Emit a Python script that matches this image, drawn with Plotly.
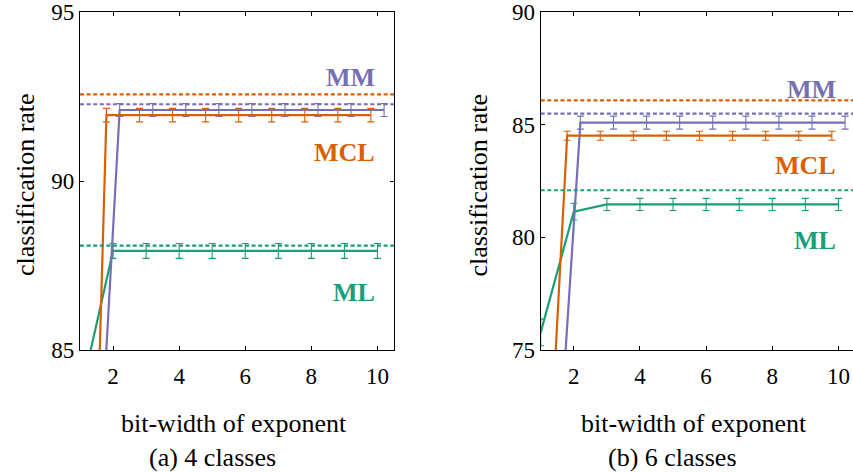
import plotly.graph_objects as go

# ---------------- data ----------------
bits = [1, 2, 3, 4, 5, 6, 7, 8, 9, 10]

# (a) 4 classes
ml_4 = [83.6, 87.93, 87.93, 87.93, 87.93, 87.93, 87.93, 87.93, 87.93, 87.93]
ml_4_err = [0.5, 0.22, 0.22, 0.22, 0.22, 0.22, 0.22, 0.22, 0.22, 0.22]
mcl_4 = [57.5, 91.95, 91.95, 91.95, 91.95, 91.95, 91.95, 91.95, 91.95, 91.95]
mcl_4_err = [0.5, 0.2, 0.2, 0.2, 0.2, 0.2, 0.2, 0.2, 0.2, 0.2]
mm_4 = [74.5, 92.1, 92.1, 92.1, 92.1, 92.1, 92.1, 92.1, 92.1, 92.1]
mm_4_err = [0.5, 0.19, 0.19, 0.19, 0.19, 0.19, 0.19, 0.19, 0.19, 0.19]
ref_4 = {"ML": 88.09, "MCL": 92.56, "MM": 92.27}

# (b) 6 classes
ml_6 = [75.78, 81.14, 81.46, 81.46, 81.46, 81.46, 81.46, 81.46, 81.46, 81.46]
ml_6_err = [0.59, 0.37, 0.27, 0.27, 0.27, 0.27, 0.27, 0.27, 0.27, 0.27]
mcl_6 = [57.0, 84.51, 84.51, 84.51, 84.51, 84.51, 84.51, 84.51, 84.51, 84.51]
mcl_6_err = [0.5, 0.2, 0.2, 0.2, 0.2, 0.2, 0.2, 0.2, 0.2, 0.2]
mm_6 = [62.5, 85.09, 85.09, 85.09, 85.09, 85.09, 85.09, 85.09, 85.09, 85.09]
mm_6_err = [0.5, 0.29, 0.29, 0.29, 0.29, 0.29, 0.29, 0.29, 0.29, 0.29]
ref_6 = {"ML": 82.09, "MCL": 86.08, "MM": 85.49}

x_ticks = [2, 4, 6, 8, 10]
y_ticks_4 = [85, 90, 95]
y_ticks_6 = [75, 80, 85, 90]

# ---------------- style ----------------
W, H = 853, 472
C = {"ML": "#1b9e77", "MCL": "#d95f02", "MM": "#7570b3"}
OFFSET = {"MCL": -0.2, "ML": 0.0, "MM": 0.2}
FONT = "'Liberation Serif', 'Times New Roman', serif"


def sx(px):
    return px / W


def sy(py):
    return 1 - py / H


fig = go.Figure()


def add_panel(xa, ya, series, refs):
    for name, (vals, errs) in series.items():
        fig.add_trace(go.Scatter(
            x=[b + OFFSET[name] for b in bits], y=vals,
            mode="lines", line=dict(color=C[name], width=2.2),
            error_y=dict(type="data", array=errs, visible=True,
                         color=C[name], thickness=1.1, width=3.5),
            xaxis=xa, yaxis=ya, showlegend=False, hoverinfo="skip"))
    for name, v in refs.items():
        fig.add_shape(type="line", xref=f"{xa} domain", yref=ya,
                      x0=0, x1=1, y0=v, y1=v,
                      line=dict(color=C[name], width=2.2, dash="4px,2.6px"),
                      layer="above")


add_panel("x", "y",
          {"ML": (ml_4, ml_4_err), "MM": (mm_4, mm_4_err), "MCL": (mcl_4, mcl_4_err)},
          ref_4)
add_panel("x2", "y2",
          {"ML": (ml_6, ml_6_err), "MM": (mm_6, mm_6_err), "MCL": (mcl_6, mcl_6_err)},
          ref_6)

ydom = [sy(350), sy(12)]
axis_common = dict(showgrid=False, zeroline=False, showline=True,
                   linecolor="black", linewidth=1.2, ticks="inside",
                   ticklen=4, tickwidth=1, tickcolor="black", automargin=False,
                   ticklabeloverflow="allow",
                   tickfont=dict(family=FONT, size=23, color="black"))

# right panel is cropped by the picture edge: its right border lies just outside
px_per_unit = (394 - 80) / 9.5
right_max = 10.5 - (855 - W) / px_per_unit

fig.update_layout(
    width=W, height=H, margin=dict(l=0, r=0, t=0, b=0, pad=0),
    paper_bgcolor="white", plot_bgcolor="white",
    font=dict(family=FONT),
    xaxis=dict(domain=[sx(80), sx(394)], range=[1, 10.5], tickvals=x_ticks,
               anchor="y", ticklabelstandoff=5, mirror="ticks", **axis_common),
    yaxis=dict(domain=ydom, range=[85, 95], tickvals=y_ticks_4,
               anchor="x", mirror="ticks", **axis_common),
    xaxis2=dict(domain=[sx(540.7), 1], range=[1, right_max], tickvals=x_ticks,
                anchor="y2", ticklabelstandoff=5, mirror="ticks", **axis_common),
    yaxis2=dict(domain=ydom, range=[75, 90], tickvals=y_ticks_6,
                anchor="x2", mirror=False, **axis_common),
)

# series labels
labels = [
    ("x", "y", "MM", 93.05), ("x", "y", "MCL", 90.83), ("x", "y", "ML", 86.69),
    ("x2", "y2", "MM", 86.55), ("x2", "y2", "MCL", 83.2), ("x2", "y2", "ML", 79.84),
]
for xa, ya, name, yv in labels:
    fig.add_annotation(x=10, y=yv, xref=xa, yref=ya, text=f"<b>{name}</b>",
                       showarrow=False, xanchor="right", yanchor="middle",
                       font=dict(family=FONT, size=26, color=C[name]))

# axis titles and sub-captions
txt = dict(family=FONT, size=26, color="black")
for px, py, t, ang in [
    (26, 185, "classification rate", -90),
    (478.5, 185, "classification rate", -90),
    (234, 423, "bit-width of exponent", 0),
    (694, 423, "bit-width of exponent", 0),
    (212, 457, "(a) 4 classes", 0),
    (672, 457, "(b) 6 classes", 0),
]:
    fig.add_annotation(x=sx(px), y=sy(py), xref="paper", yref="paper",
                       text=t, textangle=ang, showarrow=False,
                       xanchor="center", yanchor="middle", font=txt)

fig.write_html("out.html",
               config={"displayModeBar": False, "staticPlot": True},
               post_script="document.body.style.margin='0';"
                           "document.body.style.overflow='hidden';")
